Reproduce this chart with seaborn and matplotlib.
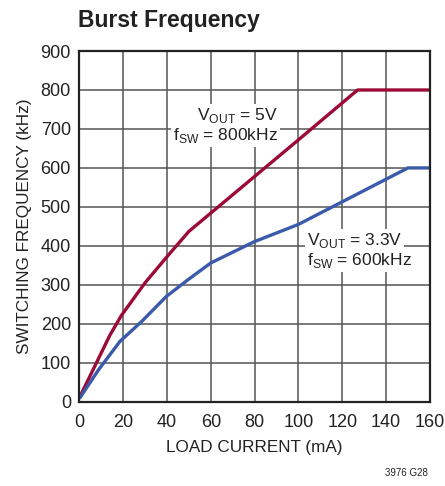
import numpy as np
import pandas as pd
import matplotlib
matplotlib.use('Agg')
import matplotlib.pyplot as plt
import seaborn as sns

# data
load_5v = [0.3, 14, 19.3, 30, 40, 50, 80, 100, 127, 160]
freq_5v = [13, 171, 222, 305, 372, 437, 578, 672, 800, 800]
load_33v = [0.3, 8.8, 18.6, 28.5, 39.7, 49.6, 60, 80, 100, 120, 150, 160]
freq_33v = [10, 82, 155, 206, 270, 313, 356, 411, 455, 513, 600, 600]
x_ticks = [0, 20, 40, 60, 80, 100, 120, 140, 160]
y_ticks = [0, 100, 200, 300, 400, 500, 600, 700, 800, 900]

sns.set_style('white')
font = ['Liberation Sans Narrow', 'Liberation Sans', 'DejaVu Sans']
plt.rcParams['font.family'] = font
plt.rcParams['mathtext.fontset'] = 'custom'
plt.rcParams['mathtext.rm'] = 'Liberation Sans'

df5 = pd.DataFrame({'load': load_5v, 'freq': freq_5v})
df3 = pd.DataFrame({'load': load_33v, 'freq': freq_33v})

fig = plt.figure(figsize=(4.45, 4.86), dpi=100)
ax = fig.add_axes([0.1782, 0.1735, 0.7878, 0.7215])

sns.lineplot(data=df5, x='load', y='freq', ax=ax, color='#9B0B36', lw=2.4, sort=False)
sns.lineplot(data=df3, x='load', y='freq', ax=ax, color='#3B5BAA', lw=2.4, sort=False)

ax.set_xlim(0, 160)
ax.set_ylim(0, 900)
ax.set_xticks(x_ticks)
ax.set_yticks(y_ticks)
ax.tick_params(labelsize=13, colors='#222222', length=0)
ax.tick_params(axis='x', pad=9)
ax.tick_params(axis='y', pad=6)
ax.grid(True, color='#555555', lw=1.1)
ax.set_axisbelow(True)
for s in ax.spines.values():
    s.set_color('#222222')
    s.set_linewidth(1.6)

ax.set_xlabel('LOAD CURRENT (mA)', fontsize=12.3, color='#222222', labelpad=6)
ax.set_ylabel('SWITCHING FREQUENCY (kHz)', fontsize=12.3, color='#222222', labelpad=6)

box = dict(facecolor='white', edgecolor='none', pad=1.5)
ax.text(90.5, 722, r'V$_{\mathrm{OUT}}$ = 5V', fontsize=12.5, ha='right', va='baseline', color='#222222', bbox=box)
ax.text(90.5, 671, r'f$_{\mathrm{SW}}$ = 800kHz', fontsize=12.5, ha='right', va='baseline', color='#222222', bbox=box)
ax.text(103.8, 402, r'V$_{\mathrm{OUT}}$ = 3.3V', fontsize=12.5, ha='left', va='baseline', color='#222222', bbox=box)
ax.text(103.8, 350, r'f$_{\mathrm{SW}}$ = 600kHz', fontsize=12.5, ha='left', va='baseline', color='#222222', bbox=box)

fig.text(0.175, 0.958, 'Burst Frequency', fontsize=16.5, fontweight='bold', color='#222222', va='center')
fig.text(0.962, 0.016, '3976 G28', fontsize=7, color='#222222', ha='right', va='bottom')

fig.savefig('out.png', dpi=100)
